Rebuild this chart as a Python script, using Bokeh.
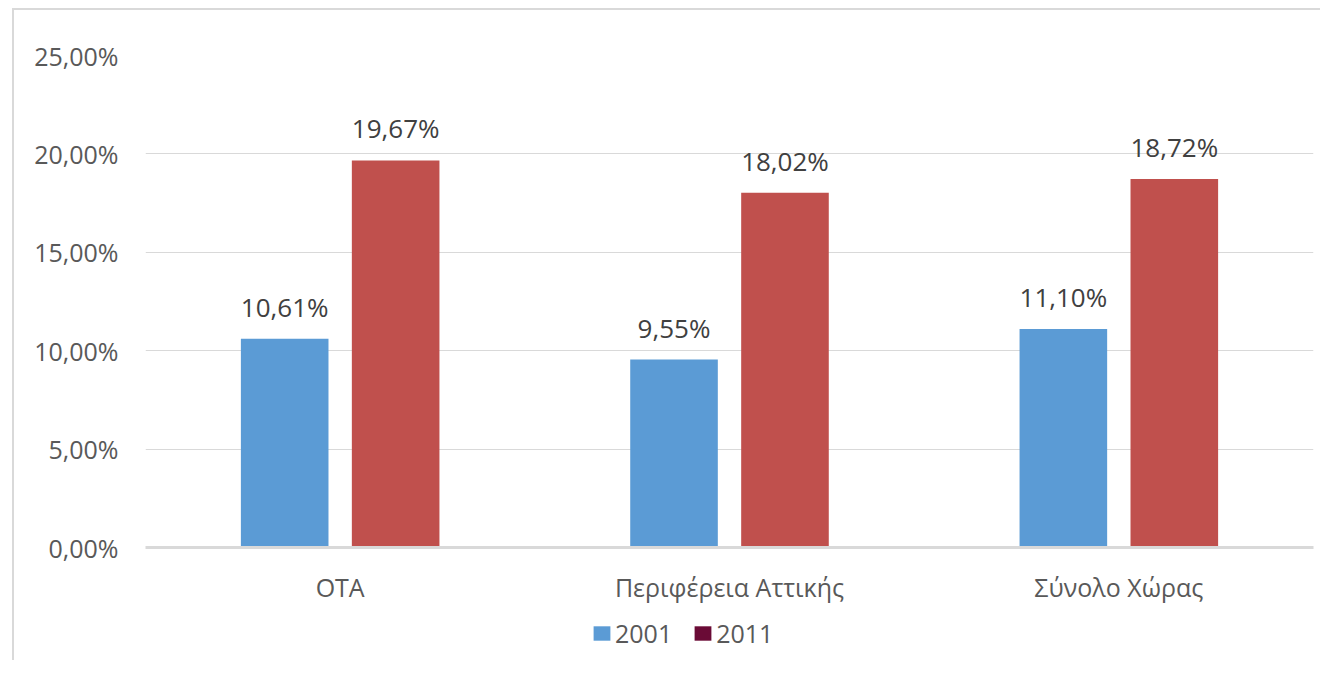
from bokeh.plotting import figure
from bokeh.layouts import column
from bokeh.models import ColumnDataSource, FactorRange, Range1d, FixedTicker, Legend, LegendItem
from bokeh.transform import dodge
from bokeh.core.properties import value
from bokeh.embed import file_html
from bokeh.resources import INLINE

categories = ["ΟΤΑ", "Περιφέρεια Αττικής", "Σύνολο Χώρας"]
series_names = ["2001", "2011"]
values_2001 = [10.61, 9.55, 11.10]
values_2011 = [19.67, 18.02, 18.72]
y_ticks = [0, 5, 10, 15, 20, 25]
y_tick_labels = ["0,00%", "5,00%", "10,00%", "15,00%", "20,00%", "25,00%"]

def fmt(v):
    return ("%.2f%%" % v).replace(".", ",")

src = ColumnDataSource(dict(
    cat=categories,
    v1=values_2001,
    v2=values_2011,
    l1=[fmt(v) for v in values_2001],
    l2=[fmt(v) for v in values_2011],
))

FONT = "Open Sans"
BLUE = "#5b9bd5"
RED = "#c0504d"
LEG2 = "#6a0b36"

p = figure(x_range=FactorRange(*categories, range_padding=0), y_range=Range1d(0, 25),
           width=1306, height=600, output_backend="svg", toolbar_location=None,
           min_border_left=131, min_border_right=7, min_border_top=45, min_border_bottom=63)
p.outline_line_color = None
p.background_fill_color = "white"
p.border_fill_color = "white"

p.vbar(x=dodge("cat", -0.1425, range=p.x_range), top="v1", width=0.225, source=src,
       fill_color=BLUE, line_color=None)
p.vbar(x=dodge("cat", 0.1425, range=p.x_range), top="v2", width=0.225, source=src,
       fill_color=RED, line_color=None)

p.text(x=dodge("cat", -0.1425, range=p.x_range), y="v1", text="l1", source=src,
       text_align="center", text_baseline="alphabetic", y_offset=-32,
       text_font=value(FONT), text_font_size="26px", text_color="#404040")
p.text(x=dodge("cat", 0.1425, range=p.x_range), y="v2", text="l2", source=src,
       text_align="center", text_baseline="alphabetic", y_offset=-32,
       text_font=value(FONT), text_font_size="26px", text_color="#404040")

p.yaxis.ticker = FixedTicker(ticks=y_ticks)
p.yaxis.major_label_overrides = {t: l for t, l in zip(y_ticks, y_tick_labels)}
p.yaxis.axis_line_color = None
p.yaxis.major_tick_line_color = None
p.yaxis.minor_tick_line_color = None
p.yaxis.major_label_standoff = 21
p.yaxis.major_label_text_font = FONT
p.yaxis.major_label_text_font_size = "25px"
p.yaxis.major_label_text_color = "#595959"

p.xaxis.axis_line_color = "#d9d9d9"
p.xaxis.axis_line_width = 3
p.xaxis.major_tick_line_color = None
p.xaxis.minor_tick_line_color = None
p.xaxis.major_label_standoff = 16
p.xaxis.major_label_text_font = FONT
p.xaxis.major_label_text_font_size = "25px"
p.xaxis.major_label_text_color = "#595959"

p.xgrid.grid_line_color = None
p.ygrid.grid_line_color = "#d9d9d9"
p.ygrid.grid_line_width = 1

# legend strip below the chart
nan = float("nan")
lf = figure(width=1306, height=50, output_backend="svg", toolbar_location=None,
            x_axis_type=None, y_axis_type=None, min_border=0,
            x_range=Range1d(0, 1), y_range=Range1d(0, 1))
lf.outline_line_color = None
lf.background_fill_color = "white"
lf.border_fill_color = "white"
r1 = lf.vbar(x=[nan], top=[nan], width=0.1, fill_color=BLUE, line_color=None)
r2 = lf.vbar(x=[nan], top=[nan], width=0.1, fill_color=LEG2, line_color=None)
legend = Legend(items=[LegendItem(label=series_names[0], renderers=[r1]),
                       LegendItem(label=series_names[1], renderers=[r2])],
                location=(446, 10), orientation="horizontal",
                glyph_width=21, glyph_height=18, label_standoff=3, spacing=20,
                padding=0, margin=0, border_line_color=None, background_fill_alpha=0,
                label_text_font=FONT, label_text_font_size="25px", label_text_color="#595959")
lf.add_layout(legend, "center")

layout = column(p, lf, spacing=0)
layout.styles = {"border-left": "2px solid #d9d9d9", "border-top": "2px solid #d9d9d9",
                 "margin-left": "12px", "margin-top": "8px"}

open("out.html", "w").write(file_html(layout, INLINE))
